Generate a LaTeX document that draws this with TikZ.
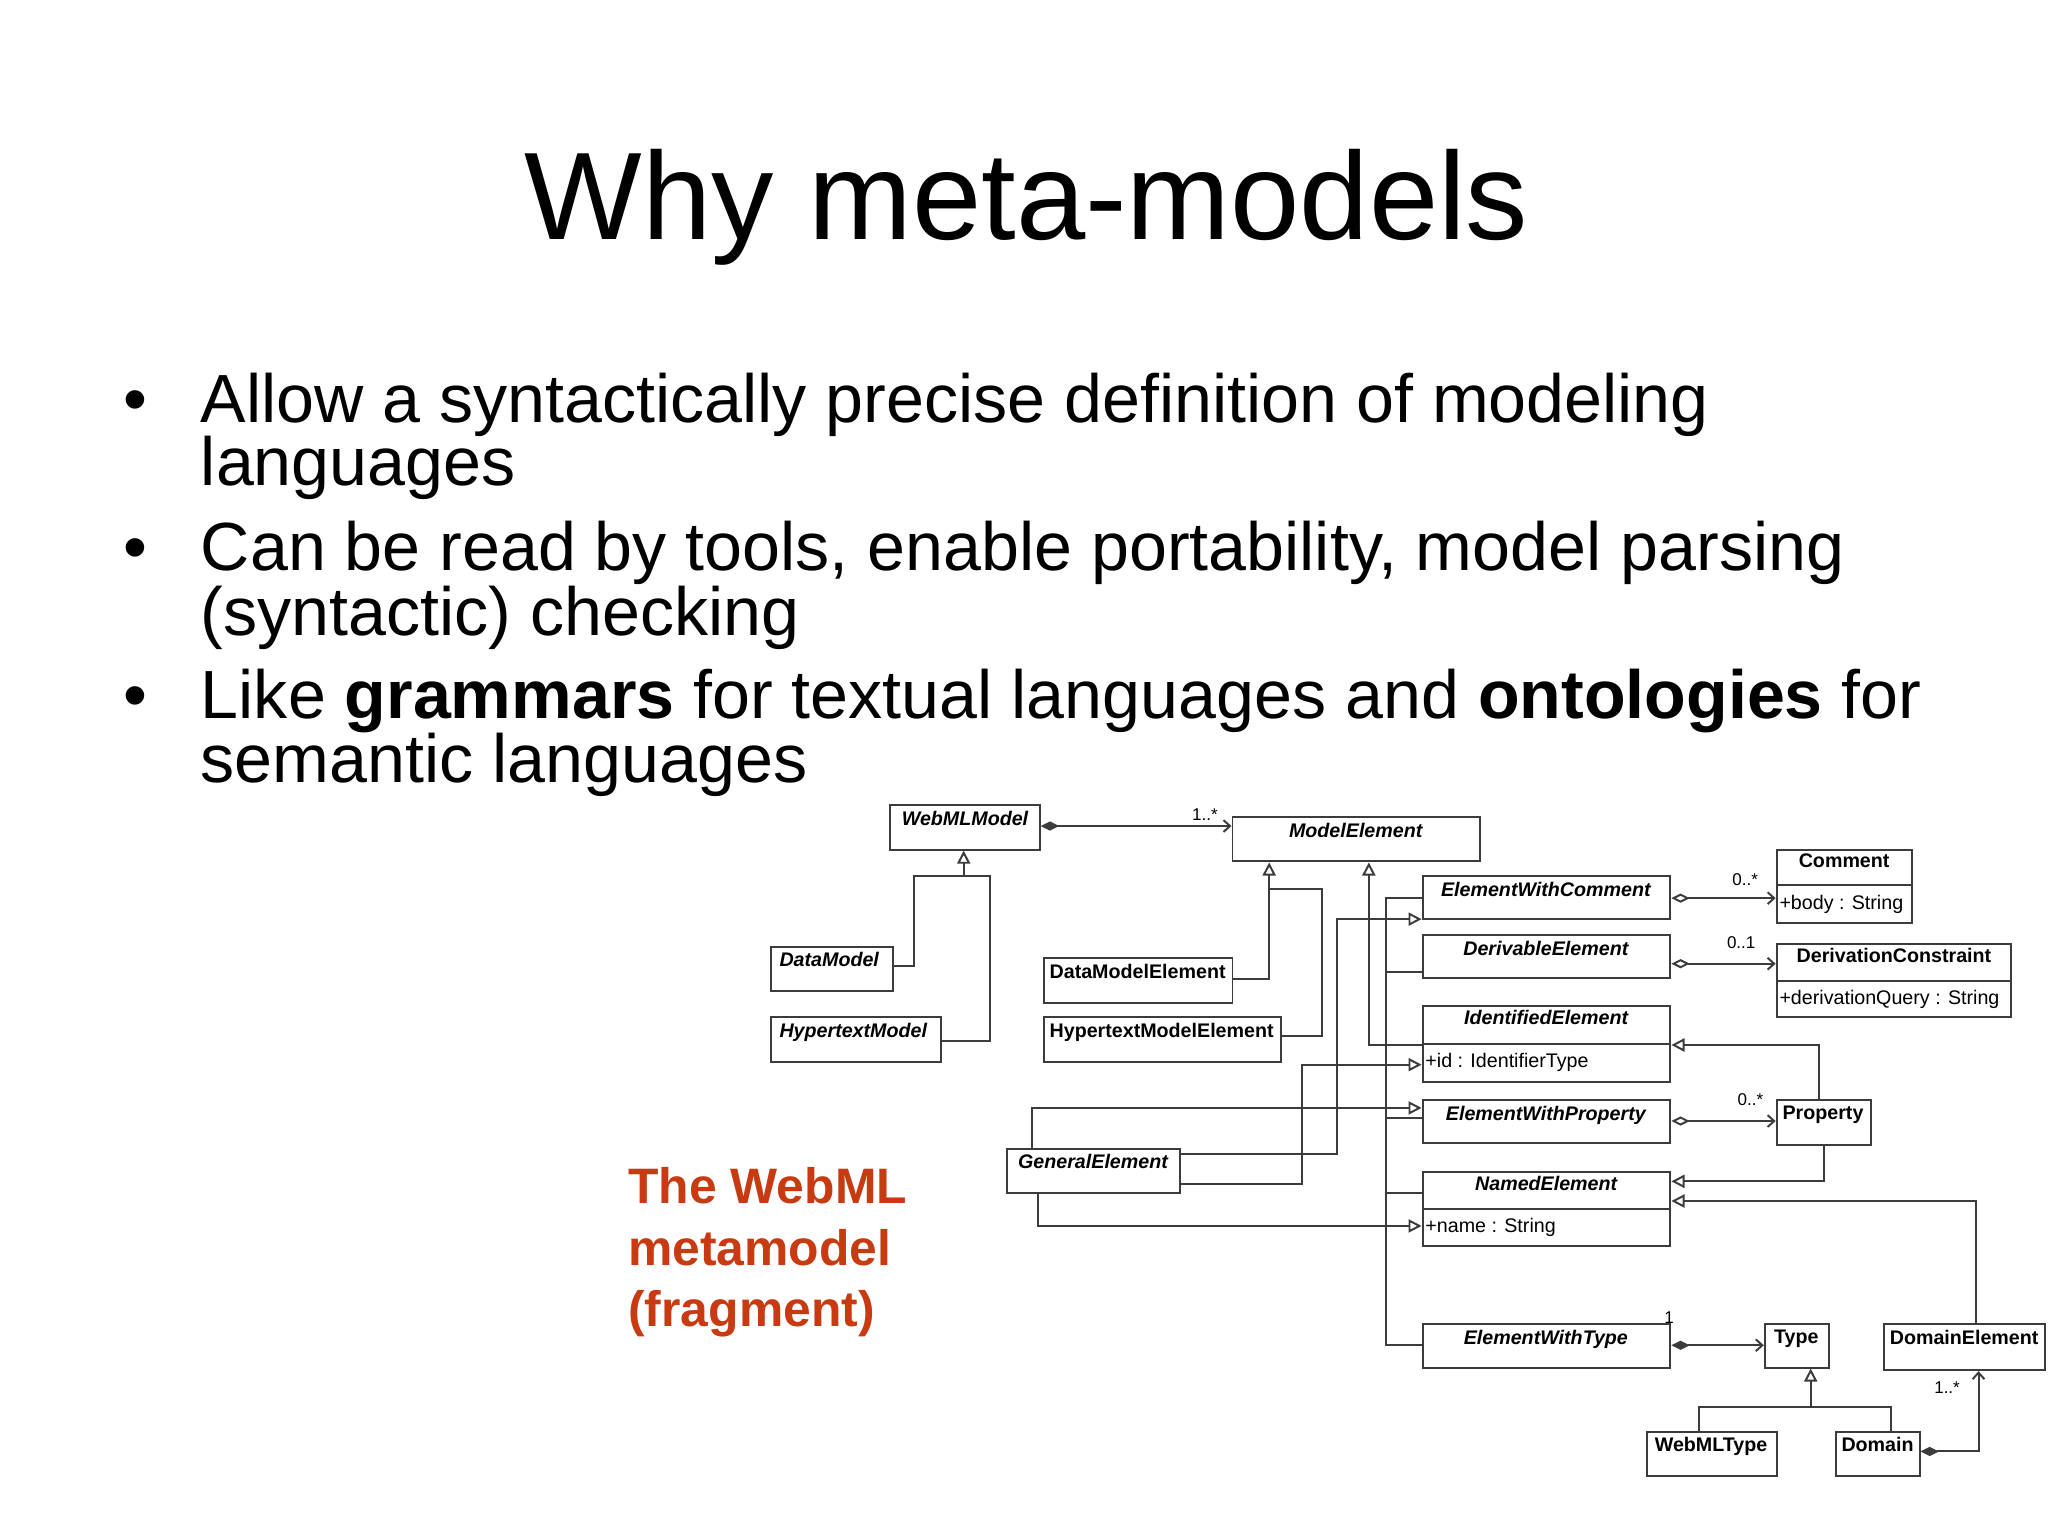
\documentclass[tikz,border=0pt]{standalone}
\usepackage{fontspec}
\setmainfont{Liberation Sans}
\usetikzlibrary{arrows.meta}
\definecolor{redtxt}{RGB}{200,58,18}
\definecolor{ln}{RGB}{60,60,60}
\newcommand{\mkcls}[5]{% name x1 y1 x2 y2
  \node[clsbox, minimum width={(#4-#2)*1pt}, minimum height={(#5-#3)*1pt}] (#1) at ({(#2+#4)/2},{(#3+#5)/2}) {};}
\newcommand{\mkclsattr}[8]{% name x1 y1 x2 y2 divider-y title attr
  \node[clsbox, minimum width={(#4-#2)*1pt}, minimum height={(#5-#3)*1pt}] (#1) at ({(#2+#4)/2},{(#3+#5)/2}) {};
  \draw[ln, line width=1.5pt] (#2,#6) -- (#4,#6);
  \node[clstext, anchor=north, font=\fontsize{15}{17}\selectfont] (#1t) at ({(#2+#4)/2},{#3+1}) {#7};
  \node[clstext, anchor=west, font=\fontsize{15}{17}\selectfont] (#1a) at (#2,{(#6+#5)/2}) {#8};}
\begin{document}
\begin{tikzpicture}[x=1pt,y=-1pt,
  clsbox/.style={draw=ln, line width=1.5pt, inner sep=0pt, fill=white},
  clstext/.style={inner sep=2pt, text=black},
  ab/.style={font=\fontsize{15}{17}\selectfont\bfseries\itshape},
  cc/.style={font=\fontsize{15}{17}\selectfont\bfseries},
  con/.style={draw=ln, line width=1.5pt},
  gen/.style={con, -{Triangle[open, length=10pt, width=10pt]}},
  agg/.style={con, {Diamond[open, length=14pt, width=7pt]}-{Straight Barb[length=5pt, width=9pt]}},
  comp/.style={con, {Diamond[length=14pt, width=7pt]}-{Straight Barb[length=5pt, width=9pt]}},
  mult/.style={font=\fontsize{13}{15}\selectfont, inner sep=1pt},
  bul/.style={anchor=base west, inner sep=0pt, font=\fontsize{52}{54}\selectfont},
  red/.style={anchor=base west, inner sep=0pt, text=redtxt, font=\fontsize{38}{40}\selectfont\bfseries}]
\useasboundingbox[fill=white] (0,0) rectangle (1562,1171);
\node[anchor=base, inner sep=0pt, font=\fontsize{95}{100}\selectfont] (title) at (783,183) {Why meta-models};
\foreach \yy/\nm in {322/b1,435/b2,548/b3} \node[bul] (\nm) at (94,\yy) {•};
\node[bul] (l1) at (153,322) {Allow a syntactically precise definition of modeling};
\node[bul] (l2) at (153,370) {languages};
\node[bul] (l3) at (153,435) {Can be read by tools, enable portability, model parsing};
\node[bul] (l4) at (153,485) {(syntactic) checking};
\node[bul] (l5) at (153,548) {Like \textbf{grammars} for textual languages and \textbf{ontologies} for};
\node[bul] (l6) at (153,597) {semantic languages};
\node[red] (r1) at (479,918) {The WebML};
\node[red] (r2) at (479,965) {metamodel};
\node[red] (r3) at (479,1012) {(fragment)};
% classes
\mkcls{wm}{679}{614}{793}{648}
\node[ab, anchor=north] (wmt) at (736,615) {WebMLModel};
\mkcls{me}{940}{623}{1129}{657}
\node[ab, anchor=north] (met) at (1034,624) {ModelElement};
\mkcls{dm}{588}{722}{681}{756}
\node[ab, anchor=north west] (dmt) at (591,723) {DataModel};
\mkcls{hm}{588}{776}{718}{810}
\node[ab, anchor=north west] (hmt) at (591,777) {HypertextModel};
\mkcls{dme}{796}{731}{940}{765}
\node[cc, anchor=north west] (dmet) at (797,732) {DataModelElement};
\mkcls{hme}{796}{776}{977}{810}
\node[cc, anchor=north west] (hmet) at (797,777) {HypertextModelElement};
\mkcls{ewc}{1085}{668}{1274}{701}
\node[ab, anchor=north] (ewct) at (1179,669) {ElementWithComment};
\mkcls{de}{1085}{713}{1274}{746}
\node[ab, anchor=north] (det) at (1179,714) {DerivableElement};
\mkclsattr{ie}{1085}{767}{1274}{825}{796}{\textbf{\textit{IdentifiedElement}}}{+id : IdentifierType}
\mkcls{ewp}{1085}{839}{1274}{872}
\node[ab, anchor=north] (ewpt) at (1179,840) {ElementWithProperty};
\mkclsattr{ne}{1085}{894}{1274}{950}{922}{\textbf{\textit{NamedElement}}}{+name : String}
\mkcls{ewt}{1085}{1010}{1274}{1043}
\node[ab, anchor=north] (ewtt) at (1179,1011) {ElementWithType};
\mkclsattr{cm}{1355}{648}{1458}{704}{675}{\textbf{Comment}}{+body : String}
\mkclsattr{dc}{1355}{720}{1534}{776}{748}{\textbf{DerivationConstraint}}{+derivationQuery : String}
\mkcls{pr}{1355}{839}{1427}{873}
\node[cc, anchor=north west] (prt) at (1356,840) {Property};
\mkcls{ge}{768}{876}{900}{910}
\node[ab, anchor=north west] (get) at (773,877) {GeneralElement};
\mkcls{ty}{1346}{1010}{1395}{1043}
\node[cc, anchor=north] (tyt) at (1370,1011) {Type};
\mkcls{dom}{1437}{1010}{1560}{1045}
\node[cc, anchor=north] (domt) at (1498,1011) {DomainElement};
\mkcls{wt}{1256}{1092}{1355}{1126}
\node[cc, anchor=north] (wtt) at (1305,1093) {WebMLType};
\mkcls{dn}{1400}{1092}{1464}{1126}
\node[cc, anchor=north] (dnt) at (1432,1093) {Domain};
% connectors
\draw[comp] (wm.east |- 0,630) -- (me.west |- 0,630);
\node[mult] (m1) at (919,621) {1..*};
\draw[gen] (dm.east |- 0,737) -- (697,737) -- (697,668) -- (735,668) -- (wm.south -| 735,0);
\draw[con] (hm.east |- 0,794) -- (755,794) -- (755,668) -- (735,668);
\draw[gen] (dme.east |- 0,747) -- (968,747) -- (me.south -| 968,0);
\draw[con] (hme.east |- 0,790) -- (1008,790) -- (1008,678) -- (968,678);
\draw[gen] (ie.west |- 0,797) -- (1044,797) -- (me.south -| 1044,0);
\draw[con] (ewc.west |- 0,685) -- (1057,685) -- (1057,1026) -- (ewt.west |- 0,1026);
\foreach \yy in {741,853,910} \draw[con] (1057,\yy) -- (1085,\yy);
\draw[gen] (ge.north -| 787,0) -- (787,845) -- (ewp.west |- 0,845);
\draw[gen] (ge.east |- 0,880) -- (1020,880) -- (1020,701) -- (ewc.west |- 0,701);
\draw[gen] (ge.east |- 0,903) -- (993,903) -- (993,812) -- (ie.west |- 0,812);
\draw[gen] (ge.south -| 792,0) -- (792,935) -- (ne.west |- 0,935);
\draw[agg] (ewc.east |- 0,685) -- (cm.west |- 0,685);
\node[mult] (m2) at (1331,671) {0..*};
\draw[agg] (de.east |- 0,735) -- (dc.west |- 0,735);
\node[mult] (m3) at (1328,719) {0..1};
\draw[agg] (ewp.east |- 0,855) -- (pr.west |- 0,855);
\node[mult] (m4) at (1335,839) {0..*};
\draw[gen] (pr.north -| 1387,0) -- (1387,797) -- (ie.east |- 0,797);
\draw[gen] (pr.south -| 1391,0) -- (1391,901) -- (ne.east |- 0,901);
\draw[gen] (dom.north -| 1507,0) -- (1507,916) -- (ne.east |- 0,916);
\draw[comp] (ewt.east |- 0,1026) -- (ty.west |- 0,1026);
\node[mult] (m5) at (1273,1005) {1};
\draw[gen] (wt.north -| 1296,0) -- (1296,1073) -- (1381,1073) -- (ty.south -| 1381,0);
\draw[con] (dn.north -| 1442,0) -- (1442,1073) -- (1381,1073);
\draw[comp] (dn.east |- 0,1107) -- (1509,1107) -- (dom.south -| 1509,0);
\node[mult] (m6) at (1485,1058) {1..*};
\end{tikzpicture}
\end{document}
